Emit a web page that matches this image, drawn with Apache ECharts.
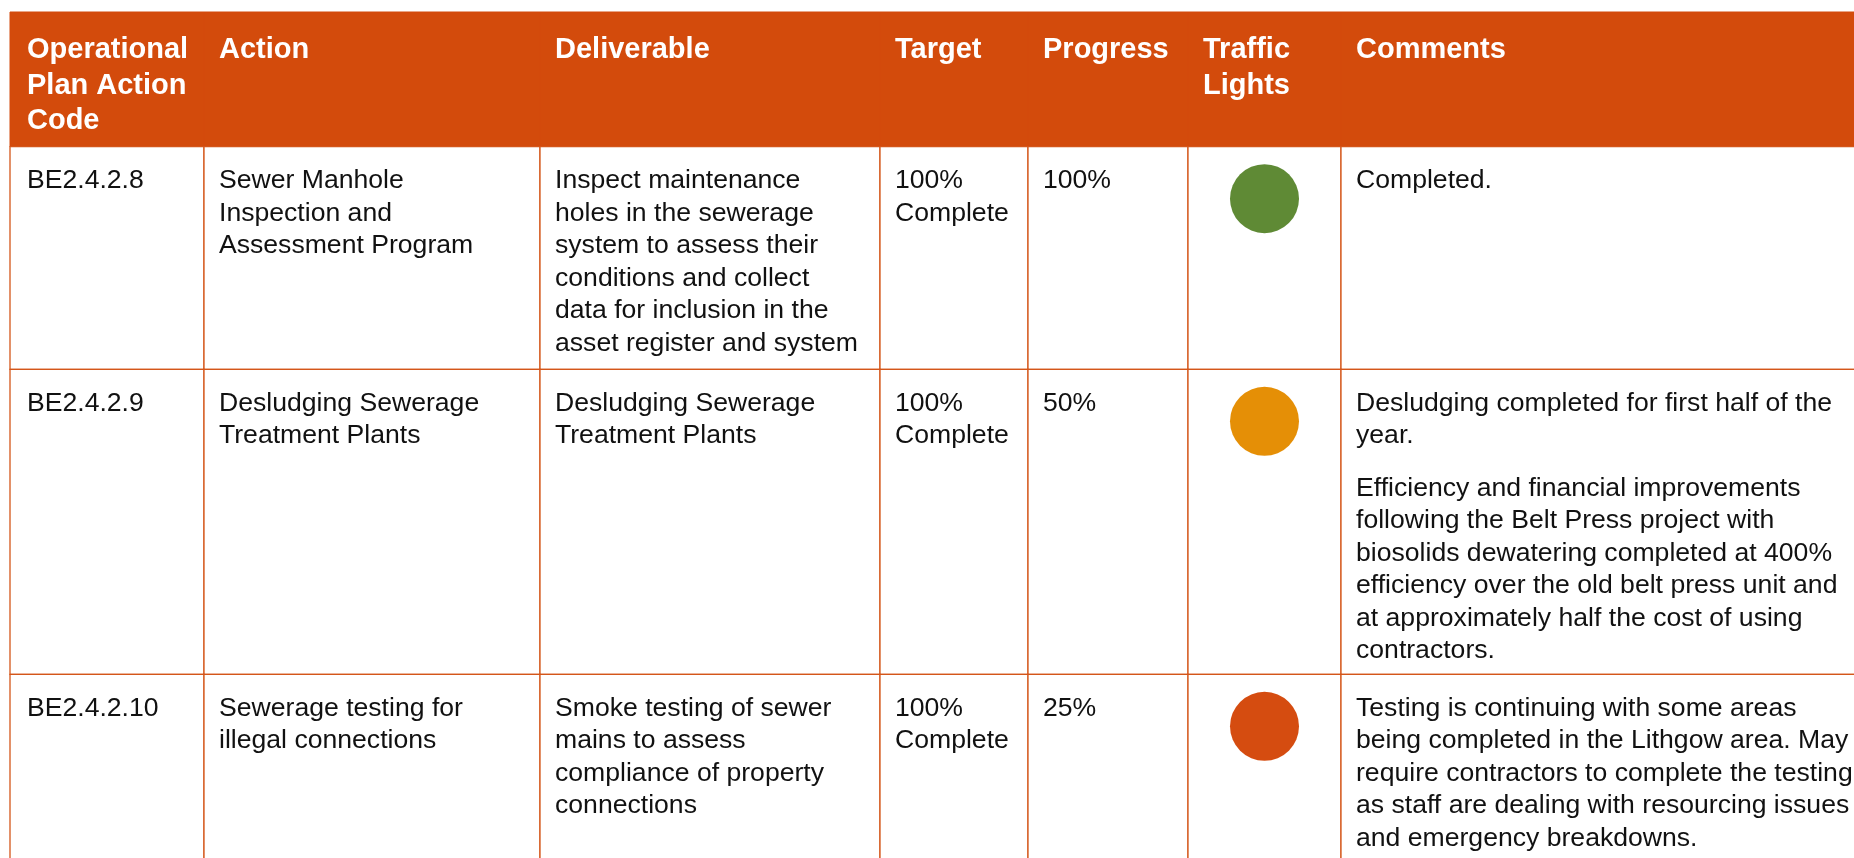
<!DOCTYPE html>
<html>
<head>
<meta charset="utf-8">
<style>
  html, body { margin: 0; padding: 0; background: #ffffff; }
  #chart { width: 1854px; height: 858px; }
</style>
<script src="https://cdn.jsdelivr.net/npm/echarts@6/dist/echarts.min.js"></script>
</head>
<body>
<div id="chart"></div>
<script>
// ---------- content (data) ----------
const headers = ['Operational\nPlan Action\nCode', 'Action', 'Deliverable', 'Target', 'Progress', 'Traffic\nLights', 'Comments'];
const codes = ['BE2.4.2.8', 'BE2.4.2.9', 'BE2.4.2.10'];
const actions = [
  'Sewer Manhole\nInspection and\nAssessment Program',
  'Desludging Sewerage\nTreatment Plants',
  'Sewerage testing for\nillegal connections'
];
const deliverables = [
  'Inspect maintenance\nholes in the sewerage\nsystem to assess their\nconditions and collect\ndata for inclusion in the\nasset register and system',
  'Desludging Sewerage\nTreatment Plants',
  'Smoke testing of sewer\nmains to assess\ncompliance of property\nconnections'
];
const targets = ['100%\nComplete', '100%\nComplete', '100%\nComplete'];
const progress = ['100%', '50%', '25%'];
const trafficLights = ['green', 'amber', 'red'];
const comments = [
  ['Completed.'],
  ['Desludging completed for first half of the\nyear.',
   'Efficiency and financial improvements\nfollowing the Belt Press project with\nbiosolids dewatering completed at 400%\nefficiency over the old belt press unit and\nat approximately half the cost of using\ncontractors.'],
  ['Testing is continuing with some areas\nbeing completed in the Lithgow area. May\nrequire contractors to complete the testing\nas staff are dealing with resourcing issues\nand emergency breakdowns.']
];

// ---------- layout & style ----------
const W = 1854, H = 858;
const colEdges = [10, 204, 540, 880, 1028, 1188, 1341, 1890];
const rowEdges = [12, 146.7, 369.3, 674.3, 1010];
const FONT = "'Liberation Sans', Arial, Helvetica, sans-serif";
const HEADER_BG = '#D34B0C';
const BORDER = '#D4561A';
const LIGHT_COLORS = { green: '#5F8A35', amber: '#E58F06', red: '#D54C10' };
const PAD_X = [17, 15, 15, 15, 15, 15, 15];
const HEAD_PAD_Y = 20.5;
const BODY_PAD_Y = 18;
const HEAD_FS = 29, HEAD_LH = 35.5;
const BODY_FS = 26.6, BODY_LH = 32.5;
const PARA_GAP = 20;
const LIGHT_R = 34.5, LIGHT_DY = 52;

// columns' body content, built from the named arrays
const bodyColumns = [codes, actions, deliverables, targets, progress, trafficLights, comments];

// cells: [col, row]  (row 0 = header)
const cells = [];
for (let r = 0; r <= codes.length; r++) {
  for (let c = 0; c < headers.length; c++) cells.push([c, r]);
}

function renderCell(params, api) {
  const c = api.value(0), r = api.value(1);
  const p0 = api.coord([colEdges[c], rowEdges[r]]);
  const p1 = api.coord([colEdges[c + 1], rowEdges[r + 1]]);
  const x = p0[0], y = p0[1], w = p1[0] - p0[0], h = p1[1] - p0[1];
  const children = [];
  if (r === 0) {
    children.push({ type: 'rect', shape: { x, y, width: w, height: h },
      style: { fill: HEADER_BG, stroke: HEADER_BG, lineWidth: 1 } });
    children.push({ type: 'text', x: x + PAD_X[c], y: y + HEAD_PAD_Y,
      style: { text: headers[c], fill: '#ffffff', fontFamily: FONT, fontWeight: 'bold',
        fontSize: HEAD_FS, lineHeight: HEAD_LH, verticalAlign: 'top', align: 'left' } });
    return { type: 'group', children };
  }
  const row = r - 1;
  children.push({ type: 'rect', shape: { x, y, width: w, height: h },
    style: { fill: '#ffffff', stroke: BORDER, lineWidth: 1.3 } });
  const val = bodyColumns[c][row];
  if (c === 5) {
    children.push({ type: 'circle', shape: { cx: x + w / 2, cy: y + LIGHT_DY, r: LIGHT_R },
      style: { fill: LIGHT_COLORS[val] } });
  } else {
    const paras = Array.isArray(val) ? val : [val];
    let ty = y + BODY_PAD_Y;
    paras.forEach(function (t) {
      children.push({ type: 'text', x: x + PAD_X[c], y: ty,
        style: { text: t, fill: '#111111', fontFamily: FONT, fontSize: BODY_FS,
          lineHeight: BODY_LH, verticalAlign: 'top', align: 'left' } });
      ty += t.split('\n').length * BODY_LH + PARA_GAP;
    });
  }
  return { type: 'group', children };
}

const chart = echarts.init(document.getElementById('chart'), null, { renderer: 'canvas' });
chart.setOption({
  animation: false,
  backgroundColor: '#ffffff',
  grid: { left: 0, right: 0, top: 0, bottom: 0 },
  xAxis: { type: 'value', min: 0, max: W, show: false },
  yAxis: { type: 'value', min: 0, max: H, inverse: true, show: false },
  series: [{
    type: 'custom',
    renderItem: renderCell,
    data: cells,
    clip: true,
    silent: true
  }]
});
</script>
</body>
</html>
